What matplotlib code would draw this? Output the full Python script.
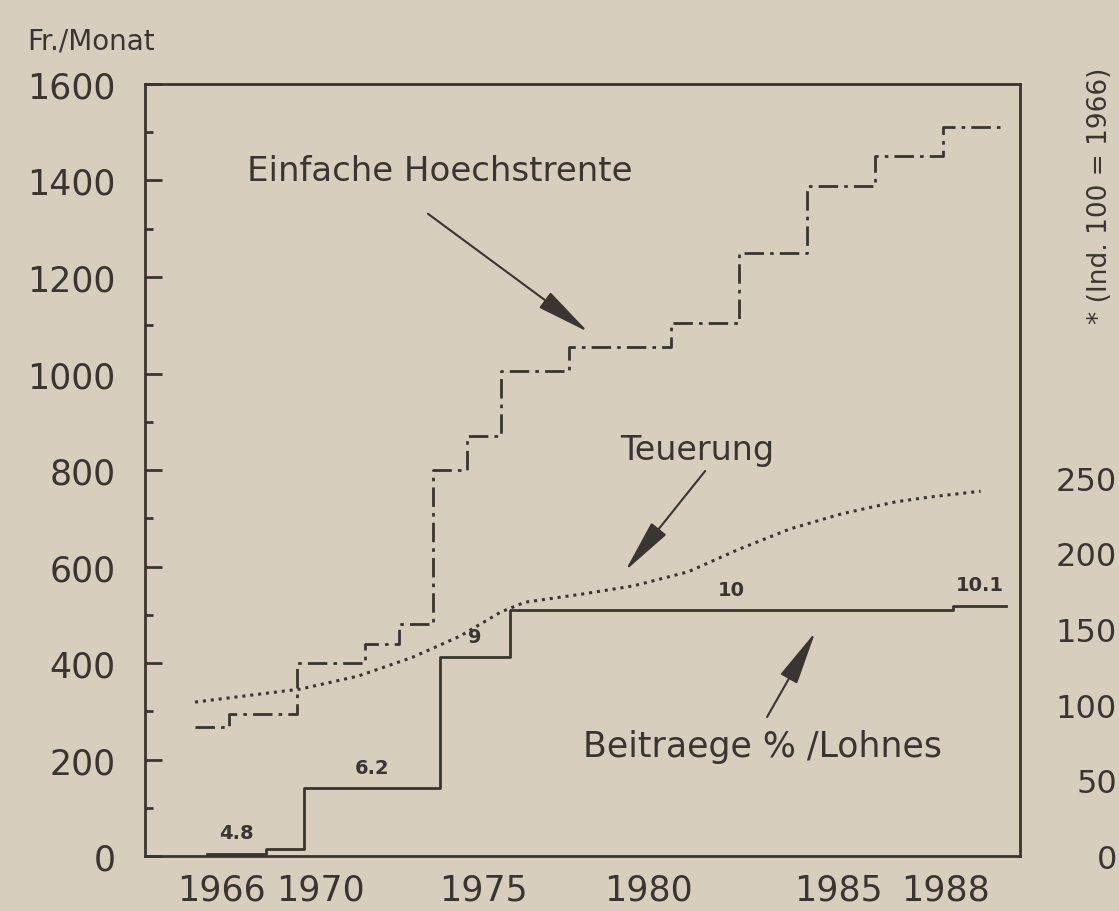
"""
AHV: einfache Hoechstrente, Teuerung und Beitraege 1966-1988 (Nachbau der Scan-Grafik).
"""
import numpy as np
import matplotlib.pyplot as plt
import matplotlib.transforms as mtransforms

# Einfache Hoechstrente in Fr./Monat (Stufen, gilt ab Jahr)
rente_jahre = [1966, 1967, 1969, 1971, 1972, 1973, 1974, 1975, 1977, 1980, 1982, 1984, 1986, 1988, 1989.8]
rente_fr = [268, 295, 400, 440, 480, 800, 870, 1005, 1055, 1105, 1250, 1388, 1450, 1510]

# Beitraege in % des Lohnes (Stufen)
beitr_jahre = [1966.35, 1968.1, 1969.2, 1973.2, 1975.25, 1988.3, 1989.85]
beitr_pct = [4.8, 4.9, 6.2, 9.0, 10.0, 10.1]
beitr_text = ['4.8', '', '6.2', '9', '10', '10.1']

# Teuerung, auf der Fr.-Skala eingezeichnet
teuer_jahre = [1966.0, 1969.1, 1970.8, 1972.4, 1973.8, 1975.0, 1975.7, 1977.4,
               1978.9, 1980.5, 1982.0, 1983.5, 1985.0, 1986.6, 1987.6, 1989.1]
teuer_wert = [319, 346, 373, 412, 456, 506, 526, 543, 560, 589, 636, 678, 709, 734, 744, 756]

x_ticks = [1966, 1970, 1975, 1980, 1985, 1988]
# die Jahreszahlen stehen in der Vorlage nicht genau unter dem Jahr (Verschiebung in Punkt)
x_label_shift = [19, -8, -13, -16, -2, 1.5]
y_ticks = [0, 200, 400, 600, 800, 1000, 1200, 1400, 1600]
idx_ticks = [0, 50, 100, 150, 200, 250]

paper = '#d8cebe'
ink = '#3a3530'
plt.rcParams['font.family'] = ['DejaVu Sans']

fig = plt.figure(figsize=(11.19, 9.12), dpi=100, facecolor=paper)
ax = fig.add_axes([0.1296, 0.0603, 0.782, 0.8465])
ax.set_facecolor(paper)

# Hoechstrente (strich-punkt)
ax.step(rente_jahre, rente_fr + [rente_fr[-1]], where='post', color=ink, lw=2.0,
        linestyle=(0, (7, 2.2, 1.3, 2.2)))

# Beitraege, Skala: Prozentpunkte ueber 4.75 %
beitr_y = (np.array(beitr_pct) - 4.75) * 97
ax.step(beitr_jahre, list(beitr_y) + [beitr_y[-1]], where='post', color=ink, lw=2.0)
for i, lab in enumerate(beitr_text):
    if not lab:
        continue
    xm = (beitr_jahre[i] + beitr_jahre[i + 1]) / 2
    ax.annotate(lab, (xm, beitr_y[i]), xytext=(0, 15), textcoords='offset points',
                ha='center', va='center', fontsize=14, fontweight='bold', color=ink)

# Teuerung (punktiert)
ax.plot(teuer_jahre, teuer_wert, color=ink, lw=2.2, linestyle=(0, (1, 1.6)))

# Beschriftungen mit Pfeilen
arrow = dict(arrowstyle='-|>,head_length=1.35,head_width=0.24', color=ink, lw=1.5,
             mutation_scale=25, shrinkA=0, shrinkB=0)
ax.text(1967.53, 1420, 'Einfache Hoechstrente', fontsize=24.5, color=ink, va='center')
ax.annotate('', xy=(1977.56, 1086), xytext=(1972.85, 1331), arrowprops=arrow)
ax.text(1978.5, 843, 'Teuerung', fontsize=24, color=ink, va='center')
ax.annotate('', xy=(1978.65, 591), xytext=(1981.0, 798), arrowprops=arrow)
ax.text(1977.41, 228, 'Beitraege % /Lohnes', fontsize=25, color=ink, va='center')
ax.annotate('', xy=(1984.24, 464), xytext=(1982.82, 288), arrowprops=arrow)

ax.set_xlim(1964.53, 1990.26)
ax.set_ylim(0, 1600)
ax.set_xticks(x_ticks)
ax.set_xticklabels([str(t) for t in x_ticks])
ax.set_yticks(y_ticks)
ax.set_yticks(np.arange(100, 1600, 200), minor=True)
ax.tick_params(axis='x', length=0, pad=12, labelsize=25, labelcolor=ink)
ax.tick_params(axis='y', which='major', direction='in', length=12, width=2,
               color=ink, pad=21, labelsize=25, labelcolor=ink)
ax.tick_params(axis='y', which='minor', direction='in', length=6, width=2, color=ink)
for lab, dx in zip(ax.get_xticklabels(), x_label_shift):
    lab.set_transform(lab.get_transform() +
                      mtransforms.ScaledTranslation(dx / 72, 0, fig.dpi_scale_trans))
for s in ax.spines.values():
    s.set_color(ink)
    s.set_linewidth(2.0)

fig.text(27 / 1119, 1 - 41 / 912, 'Fr./Monat', fontsize=20, color=ink, va='center')

# angeschnittene Nachbargrafik rechts
ax2 = fig.add_axes([1121 / 1119, 0.0603, 0.2, 0.8465])
ax2.set_ylim(0, 510)
ax2.set_yticks(idx_ticks)
ax2.set_xticks([])
ax2.tick_params(axis='y', length=0, pad=3, labelsize=23, labelcolor=ink)
ax2.patch.set_visible(False)
for s in ax2.spines.values():
    s.set_visible(False)
fig.text(1100 / 1119, 1 - 196 / 912, '* (Ind. 100 = 1966)', rotation=90,
         fontsize=19, color=ink, ha='center', va='center')

fig.savefig('out.png', dpi=100, facecolor=paper)
